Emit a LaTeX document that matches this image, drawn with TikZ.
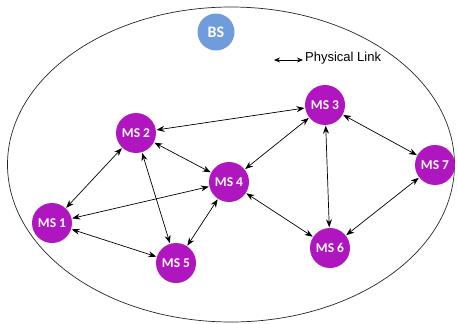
\documentclass[tikz,border=0pt]{standalone}
\usepackage{fontspec}
\setmainfont{Liberation Sans}
\newfontfamily\nodefont{Carlito}
\usetikzlibrary{arrows.meta}
\definecolor{msfill}{RGB}{176,22,192}
\definecolor{bsfill}{RGB}{112,156,220}
\begin{document}
\begin{tikzpicture}[x=1pt,y=-1pt,
  ms/.style={circle,fill=msfill,draw=none,minimum size=40pt,inner sep=0pt,
    text=white,font=\nodefont\bfseries\fontsize{13.5}{15}\selectfont},
  bs/.style={circle,fill=bsfill,draw=none,minimum size=37pt,inner sep=0pt,
    text=white,font=\nodefont\bfseries\fontsize{16}{18}\selectfont},
  link/.style={{Stealth[length=8pt,width=6pt]}-{Stealth[length=8pt,width=6pt]},
    line width=0.7pt,shorten <=0.5pt,shorten >=0.5pt}]
  \useasboundingbox (0,0) rectangle (458,324);
  % network area
  \draw[line width=0.7pt,black!85] (231,164.5) ellipse [x radius=223.5,y radius=157.5];
  % base station
  \node[bs] (bs) at (216,32) {BS};
  % legend
  \coordinate (la) at (274,60);
  \coordinate (lb) at (303,60);
  \draw[{Stealth[length=6pt,width=5pt]}-{Stealth[length=6pt,width=5pt]},line width=0.7pt] (la) -- (lb);
  \node[anchor=west,inner sep=0pt,font=\fontsize{13}{15}\selectfont] (leg) at (305,58.5) {Physical Link};
  % mobile stations
  \node[ms] (ms1) at (52,223) {MS 1};
  \node[ms] (ms2) at (136,133) {MS 2};
  \node[ms] (ms3) at (325,105) {MS 3};
  \node[ms] (ms4) at (229,182) {MS 4};
  \node[ms] (ms5) at (176,263) {MS 5};
  \node[ms] (ms6) at (330,248) {MS 6};
  \node[ms] (ms7) at (435,165) {MS 7};
  % links
  \draw[link] (ms1) -- (ms2);
  \draw[link] (ms1) -- (ms4);
  \draw[link] (ms1) -- (ms5);
  \draw[link] (ms2) -- (ms3);
  \draw[link] (ms2) -- (ms4);
  \draw[link] (ms2) -- (ms5);
  \draw[link] (ms4) -- (ms5);
  \draw[link] (ms4) -- (ms3);
  \draw[link] (ms4) -- (ms6);
  \draw[link] (ms3) -- (ms6);
  \draw[link] (ms3) -- (ms7);
  \draw[link] (ms6) -- (ms7);
\end{tikzpicture}
\end{document}
